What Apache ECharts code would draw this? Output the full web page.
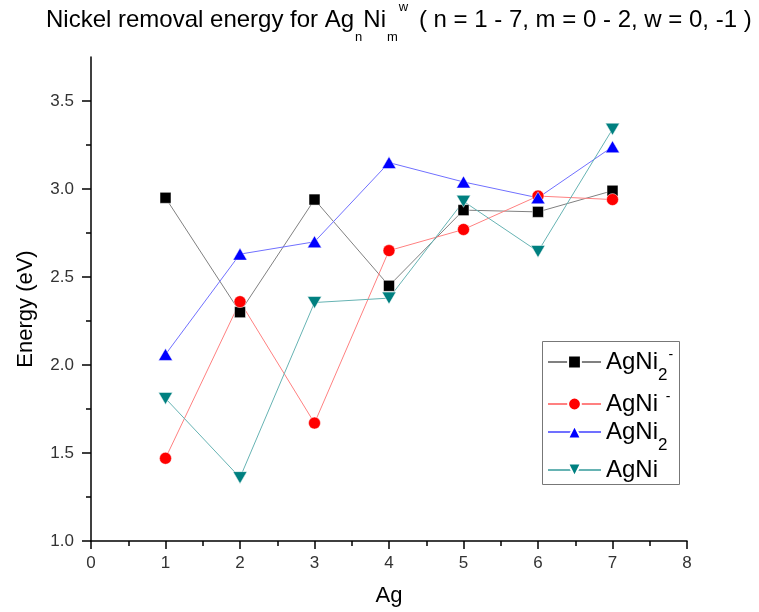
<!DOCTYPE html>
<html><head><meta charset="utf-8">
<script src="https://cdn.jsdelivr.net/npm/echarts@6/dist/echarts.min.js"></script>
<style>html,body{margin:0;padding:0;background:#fff}#c{width:759px;height:612px}</style>
</head><body><div id="c"></div>
<script>
const agCount = [1, 2, 3, 4, 5, 6, 7];
const seriesNames = ['AgNi2-', 'AgNi-', 'AgNi2', 'AgNi'];
const agNi2Anion = [2.95, 2.30, 2.94, 2.45, 2.88, 2.87, 2.99];
const agNiAnion  = [1.47, 2.36, 1.67, 2.65, 2.77, 2.96, 2.94];
const agNi2      = [2.06, 2.63, 2.70, 3.15, 3.04, 2.95, 3.24];
const agNi       = [1.81, 1.36, 2.355, 2.38, 2.93, 2.645, 3.34];
const yTicks = [1.0, 1.5, 2.0, 2.5, 3.0, 3.5];

const FONT = 'Liberation Sans';
const chart = echarts.init(document.getElementById('c'));
const pairs = arr => agCount.map((x, i) => [x, arr[i]]);
const mk = (name, data, color, lineColor, symbol, size, rotate) => ({
  name, type: 'line', data: pairs(data), symbol, symbolSize: size, symbolRotate: rotate || 0,
  itemStyle: { color, borderColor: '#fff', borderWidth: 0.5 },
  lineStyle: { color: lineColor, width: 1 },
  emphasis: { disabled: true }, z: 3
});
const legendLabel = {
  'AgNi2-': 'AgNi{sub|2}{sup|-}',
  'AgNi-': 'AgNi {sup|-}',
  'AgNi2': 'AgNi{sub|2}',
  'AgNi': 'AgNi'
};
const legendCenters = [360, 402, 432, 470];
const legendRich = {
  sub: { fontFamily: FONT, fontSize: 17, color: '#000', padding: [26, 0, 0, 0] },
  sup: { fontFamily: FONT, fontSize: 14, color: '#000', padding: [0, 0, 14, 1] }
};
const legends = seriesNames.map((n, i) => ({
  orient: 'vertical', left: 547, top: legendCenters[i] - 12,
  data: [n], padding: 0,
  itemWidth: 53, itemHeight: 16, itemGap: 0,
  formatter: nm => legendLabel[nm],
  textStyle: { fontFamily: FONT, fontSize: 24, color: '#000', lineHeight: 24, rich: legendRich }
}));
chart.setOption({
  animation: false,
  title: {
    text: 'Nickel removal energy for Ag{sub|n}Ni{sub|m}{sup|w} ( n = 1 - 7, m = 0 - 2, w = 0, -1 )',
    left: 46, top: 6, padding: 0,
    textStyle: {
      fontFamily: FONT, fontSize: 24, fontWeight: 'normal', color: '#000', lineHeight: 28,
      rich: {
        sub: { fontFamily: FONT, fontSize: 13, color: '#000', padding: [34, 1, 0, 1] },
        sup: { fontFamily: FONT, fontSize: 13, color: '#000', padding: [0, 4, 26, 0] }
      }
    }
  },
  graphic: [{
    type: 'rect', left: 540, top: 339, z: 1, silent: true,
    shape: { width: 137, height: 143 },
    style: { fill: 'none', stroke: '#777', lineWidth: 1 }
  }],
  grid: { left: 91, right: 72, top: 57, bottom: 71 },
  legend: legends,
  xAxis: {
    type: 'value', min: 0, max: 8, interval: 1,
    name: 'Ag', nameLocation: 'middle', nameGap: 44,
    nameTextStyle: { fontFamily: FONT, fontSize: 22, color: '#000' },
    axisLine: { onZero: false, lineStyle: { color: '#000', width: 1.5 } },
    axisTick: { length: 8, lineStyle: { color: '#000', width: 1.5 } },
    minorTick: { show: true, splitNumber: 2, length: 5, lineStyle: { color: '#000', width: 1.5 } },
    axisLabel: { fontFamily: FONT, fontSize: 17, color: '#333', margin: 14 },
    splitLine: { show: false }
  },
  yAxis: {
    type: 'value', min: 1, max: 3.75,
    name: 'Energy (eV)', nameLocation: 'middle', nameGap: 54, nameRotate: 90,
    nameTextStyle: { fontFamily: FONT, fontSize: 22, color: '#000', padding: [0, 20, 0, 0] },
    axisLine: { show: true, onZero: false, lineStyle: { color: '#000', width: 1.5 } },
    axisTick: { show: true, length: 9, customValues: yTicks, lineStyle: { color: '#000', width: 1.5 } },
    minorTick: { show: true, splitNumber: 2, length: 5, lineStyle: { color: '#000', width: 1.5 } },
    axisLabel: { fontFamily: FONT, fontSize: 17, color: '#333', margin: 17, customValues: yTicks,
      formatter: v => v.toFixed(1) },
    splitLine: { show: false }
  },
  series: [
    mk(seriesNames[0], agNi2Anion, '#000000', '#808080', 'rect', 11),
    mk(seriesNames[1], agNiAnion, '#ff0000', '#ff8080', 'circle', 12),
    mk(seriesNames[2], agNi2, '#0000ff', '#7070ff', 'triangle', [14, 12]),
    mk(seriesNames[3], agNi, '#008080', '#66b3b3', 'triangle', [14, 12], 180)
  ]
});
</script></body></html>
